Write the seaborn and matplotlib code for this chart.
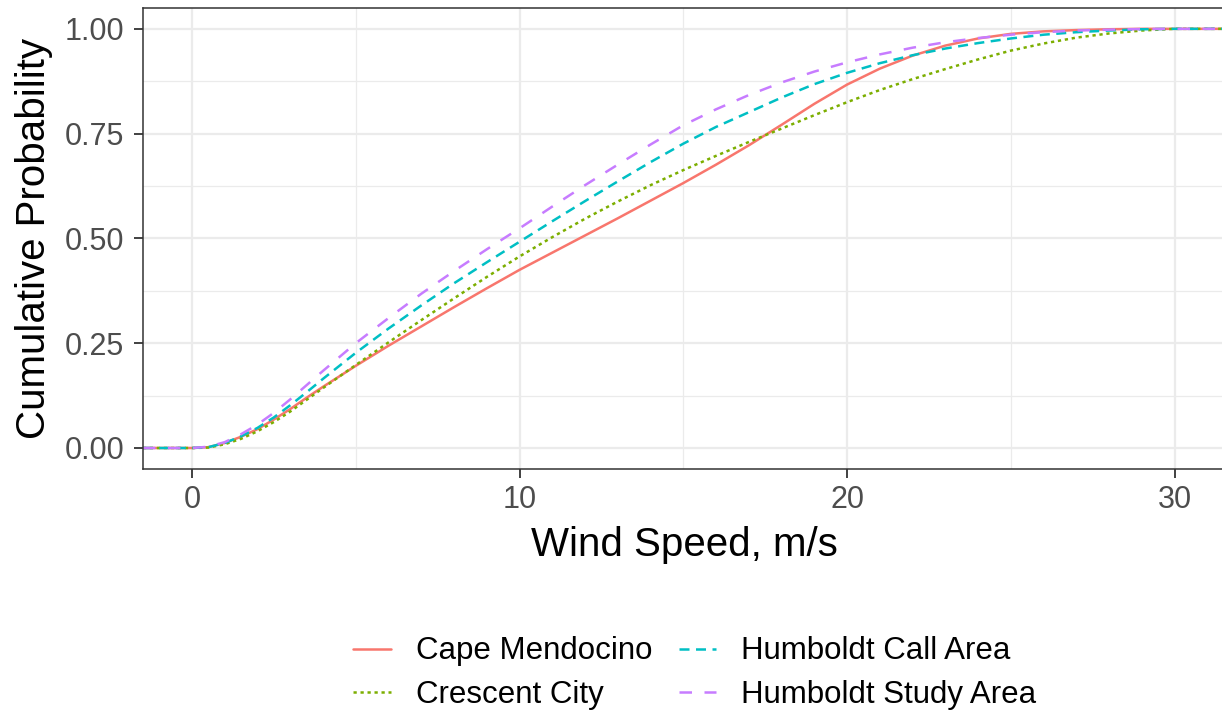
import numpy as np
import pandas as pd
import matplotlib
matplotlib.use("Agg")
import matplotlib.pyplot as plt
from matplotlib.ticker import MultipleLocator, FormatStrFormatter
import seaborn as sns

# wind speed grid (m/s) and cumulative probabilities
wind = [-1.5, 0, 0.5, 1, 1.5, 2, 2.5, 3, 3.5, 4, 5, 6, 7, 8, 9, 10, 11, 12, 13, 14,
        15, 16, 17, 18, 19, 20, 21, 22, 23, 24, 25, 26, 27, 28, 29, 30, 32]

cape_mendocino = [0, 0, 0.002, 0.012, 0.027, 0.045, 0.068, 0.093, 0.12, 0.146, 0.196,
                  0.244, 0.29, 0.336, 0.381, 0.425, 0.466, 0.507, 0.548, 0.59, 0.632,
                  0.676, 0.722, 0.771, 0.821, 0.867, 0.905, 0.936, 0.96, 0.977, 0.988,
                  0.994, 0.997, 0.999, 1.0, 1.0, 1.0]
crescent_city = [0, 0, 0.001, 0.009, 0.022, 0.04, 0.062, 0.087, 0.115, 0.143, 0.198,
                 0.252, 0.305, 0.357, 0.408, 0.457, 0.503, 0.547, 0.588, 0.627, 0.663,
                 0.697, 0.73, 0.762, 0.794, 0.825, 0.854, 0.88, 0.904, 0.927, 0.948,
                 0.965, 0.979, 0.989, 0.996, 1.0, 1.0]
humboldt_call = [0, 0, 0.002, 0.012, 0.028, 0.048, 0.073, 0.102, 0.133, 0.165, 0.227,
                 0.285, 0.34, 0.393, 0.443, 0.492, 0.541, 0.589, 0.636, 0.682, 0.726,
                 0.766, 0.801, 0.836, 0.868, 0.895, 0.918, 0.937, 0.953, 0.966, 0.977,
                 0.986, 0.992, 0.996, 0.999, 1.0, 1.0]
humboldt_study = [0, 0, 0.003, 0.014, 0.033, 0.056, 0.084, 0.116, 0.15, 0.184, 0.25,
                  0.31, 0.368, 0.422, 0.474, 0.524, 0.576, 0.627, 0.676, 0.724, 0.77,
                  0.808, 0.842, 0.872, 0.898, 0.92, 0.939, 0.955, 0.968, 0.978, 0.986,
                  0.992, 0.996, 0.998, 0.9995, 1.0, 1.0]

sites = ["Cape Mendocino", "Crescent City", "Humboldt Call Area", "Humboldt Study Area"]
colors = ["#F8766D", "#7CAE00", "#00BFC4", "#C77CFF"]

df = pd.concat([
    pd.DataFrame({"wind": wind, "prob": vals, "site": name})
    for name, vals in zip(sites, [cape_mendocino, crescent_city, humboldt_call, humboldt_study])
])

sns.set_style("white")
plt.rcParams["font.family"] = ["Liberation Sans", "DejaVu Sans"]

fig = plt.figure(figsize=(12.22, 7.13), dpi=100)
ax = fig.add_axes([143 / 1222, 1 - 469 / 713, (1226 - 143) / 1222, 461 / 713])

dashes = {sites[0]: "", sites[1]: (1.3, 1.5), sites[2]: (4, 2.6), sites[3]: (5, 5)}
sns.lineplot(data=df, x="wind", y="prob", hue="site", style="site",
             hue_order=sites, style_order=sites, palette=colors, dashes=dashes,
             linewidth=1.8, ax=ax, errorbar=None)

ax.set_xlim(-1.496, 31.57)
ax.set_ylim(-0.0501, 1.0497)
ax.xaxis.set_major_locator(MultipleLocator(10))
ax.xaxis.set_minor_locator(MultipleLocator(5))
ax.yaxis.set_major_locator(MultipleLocator(0.25))
ax.yaxis.set_minor_locator(MultipleLocator(0.125))
ax.yaxis.set_major_formatter(FormatStrFormatter("%.2f"))

# theme_bw-like look
ax.grid(which="major", color="#EBEBEB", linewidth=1.6, zorder=0)
ax.grid(which="minor", color="#EBEBEB", linewidth=0.9, zorder=0)
ax.set_axisbelow(True)
for side in ["left", "top", "bottom"]:
    ax.spines[side].set_color("#333333")
    ax.spines[side].set_linewidth(1.1)
ax.spines["right"].set_visible(False)

ax.tick_params(which="major", length=6.5, width=1.3, color="#333333",
               labelsize=22, labelcolor="#4D4D4D", left=True, bottom=True)
ax.tick_params(axis="y", pad=7)
ax.tick_params(axis="x", pad=5)
ax.tick_params(which="minor", length=0)

ax.set_xlabel("Wind Speed, m/s", fontsize=29, labelpad=8, color="black")
ax.set_ylabel("Cumulative Probability", fontsize=29, labelpad=8, color="black")

handles, labels = ax.get_legend_handles_labels()
ax.get_legend().remove()
leg = fig.legend(handles, labels, loc="center", bbox_to_anchor=(695 / 1222, 1 - 673 / 713),
                 ncol=2, frameon=False, fontsize=22.5, handlelength=1.2, handletextpad=0.8,
                 columnspacing=0.85, labelspacing=0.42)
for t in leg.get_texts():
    t.set_color("black")

fig.savefig("out.png", dpi=100)
